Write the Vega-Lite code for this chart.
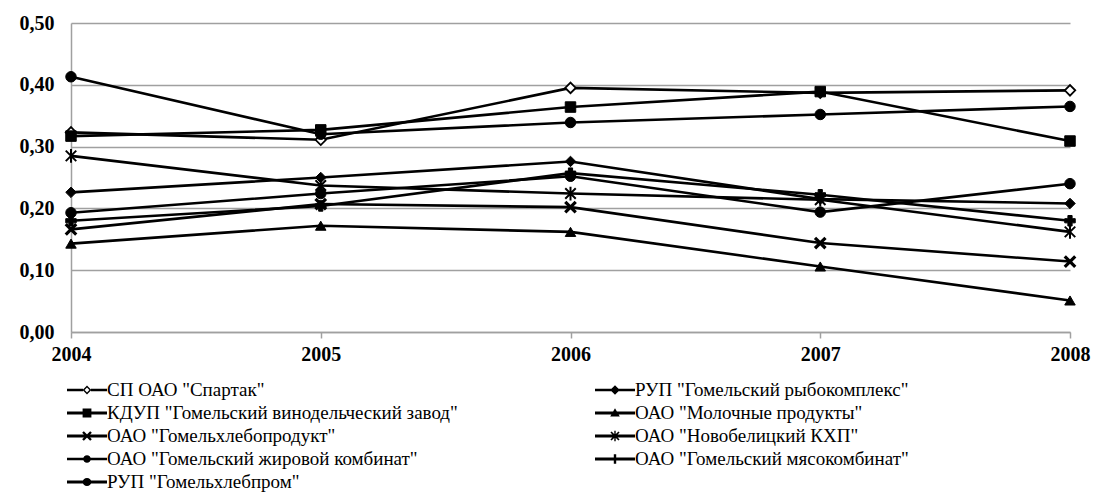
{
  "$schema": "https://vega.github.io/schema/vega-lite/v6.json",
  "autosize": {"type": "none"},
  "padding": {"left": 71, "top": 23, "right": 24, "bottom": 160},
  "width": 999,
  "height": 309,
  "background": "white",
  "config": {
    "locale": {"number": {"decimal": ",", "thousands": " ", "grouping": [3], "currency": ["", ""]}},
    "view": {"stroke": null},
    "font": "Liberation Serif"
  },
  "data": {
    "values": [
      {"series": "СП ОАО \"Спартак\"", "year": 2004, "v": 0.323},
      {"series": "СП ОАО \"Спартак\"", "year": 2005, "v": 0.311},
      {"series": "СП ОАО \"Спартак\"", "year": 2006, "v": 0.395},
      {"series": "СП ОАО \"Спартак\"", "year": 2007, "v": 0.387},
      {"series": "СП ОАО \"Спартак\"", "year": 2008, "v": 0.391},
      {"series": "РУП \"Гомельский рыбокомплекс\"", "year": 2004, "v": 0.226},
      {"series": "РУП \"Гомельский рыбокомплекс\"", "year": 2005, "v": 0.25},
      {"series": "РУП \"Гомельский рыбокомплекс\"", "year": 2006, "v": 0.276},
      {"series": "РУП \"Гомельский рыбокомплекс\"", "year": 2007, "v": 0.215},
      {"series": "РУП \"Гомельский рыбокомплекс\"", "year": 2008, "v": 0.208},
      {"series": "КДУП \"Гомельский винодельческий завод\"", "year": 2004, "v": 0.317},
      {"series": "КДУП \"Гомельский винодельческий завод\"", "year": 2005, "v": 0.327},
      {"series": "КДУП \"Гомельский винодельческий завод\"", "year": 2006, "v": 0.364},
      {"series": "КДУП \"Гомельский винодельческий завод\"", "year": 2007, "v": 0.389},
      {"series": "КДУП \"Гомельский винодельческий завод\"", "year": 2008, "v": 0.309},
      {"series": "ОАО \"Молочные продукты\"", "year": 2004, "v": 0.143},
      {"series": "ОАО \"Молочные продукты\"", "year": 2005, "v": 0.172},
      {"series": "ОАО \"Молочные продукты\"", "year": 2006, "v": 0.162},
      {"series": "ОАО \"Молочные продукты\"", "year": 2007, "v": 0.106},
      {"series": "ОАО \"Молочные продукты\"", "year": 2008, "v": 0.051},
      {"series": "ОАО \"Гомельхлебопродукт\"", "year": 2004, "v": 0.166},
      {"series": "ОАО \"Гомельхлебопродукт\"", "year": 2005, "v": 0.207},
      {"series": "ОАО \"Гомельхлебопродукт\"", "year": 2006, "v": 0.202},
      {"series": "ОАО \"Гомельхлебопродукт\"", "year": 2007, "v": 0.144},
      {"series": "ОАО \"Гомельхлебопродукт\"", "year": 2008, "v": 0.114},
      {"series": "ОАО \"Новобелицкий КХП\"", "year": 2004, "v": 0.285},
      {"series": "ОАО \"Новобелицкий КХП\"", "year": 2005, "v": 0.237},
      {"series": "ОАО \"Новобелицкий КХП\"", "year": 2006, "v": 0.224},
      {"series": "ОАО \"Новобелицкий КХП\"", "year": 2007, "v": 0.214},
      {"series": "ОАО \"Новобелицкий КХП\"", "year": 2008, "v": 0.162},
      {"series": "ОАО \"Гомельский жировой комбинат\"", "year": 2004, "v": 0.193},
      {"series": "ОАО \"Гомельский жировой комбинат\"", "year": 2005, "v": 0.224},
      {"series": "ОАО \"Гомельский жировой комбинат\"", "year": 2006, "v": 0.252},
      {"series": "ОАО \"Гомельский жировой комбинат\"", "year": 2007, "v": 0.194},
      {"series": "ОАО \"Гомельский жировой комбинат\"", "year": 2008, "v": 0.24},
      {"series": "ОАО \"Гомельский мясокомбинат\"", "year": 2004, "v": 0.18},
      {"series": "ОАО \"Гомельский мясокомбинат\"", "year": 2005, "v": 0.204},
      {"series": "ОАО \"Гомельский мясокомбинат\"", "year": 2006, "v": 0.257},
      {"series": "ОАО \"Гомельский мясокомбинат\"", "year": 2007, "v": 0.222},
      {"series": "ОАО \"Гомельский мясокомбинат\"", "year": 2008, "v": 0.18},
      {"series": "РУП \"Гомельхлебпром\"", "year": 2004, "v": 0.413},
      {"series": "РУП \"Гомельхлебпром\"", "year": 2005, "v": 0.32},
      {"series": "РУП \"Гомельхлебпром\"", "year": 2006, "v": 0.339},
      {"series": "РУП \"Гомельхлебпром\"", "year": 2007, "v": 0.352},
      {"series": "РУП \"Гомельхлебпром\"", "year": 2008, "v": 0.365}
    ]
  },
  "encoding": {
    "x": {
      "field": "year", "type": "quantitative",
      "scale": {"domain": [2004, 2008], "nice": false, "zero": false},
      "axis": {
        "values": [2004, 2005, 2006, 2007, 2008], "format": "d", "title": null, "grid": false,
        "domainColor": "#a0a0a0", "domainWidth": 1.5, "tickColor": "#a0a0a0", "tickSize": 6, "tickWidth": 1.5,
        "labelFont": "Liberation Serif", "labelFontWeight": "bold", "labelFontSize": 20, "labelColor": "black",
        "labelPadding": 6, "labelFlush": false
      }
    },
    "y": {
      "field": "v", "type": "quantitative",
      "scale": {"domain": [0, 0.5], "nice": false},
      "axis": {
        "values": [0, 0.1, 0.2, 0.3, 0.4, 0.5], "format": ".2f", "title": null,
        "grid": true, "gridColor": "#a0a0a0", "gridWidth": 1.5, "ticks": false,
        "domainColor": "#a0a0a0", "domainWidth": 1.5,
        "labelFont": "Liberation Serif", "labelFontWeight": "bold", "labelFontSize": 20, "labelColor": "black",
        "labelPadding": 17
      }
    }
  },
  "layer": [
    {
      "mark": {"type": "line", "color": "black", "strokeWidth": 2.6},
      "encoding": {"detail": {"field": "series"}}
    },
    {
      "mark": {"type": "point", "filled": true, "stroke": "black", "size": 110, "opacity": 1},
      "encoding": {
        "shape": {
          "field": "series",
          "scale": {
            "domain": ["СП ОАО \"Спартак\"", "РУП \"Гомельский рыбокомплекс\"", "КДУП \"Гомельский винодельческий завод\"", "ОАО \"Молочные продукты\"", "ОАО \"Гомельхлебопродукт\"", "ОАО \"Новобелицкий КХП\"", "ОАО \"Гомельский жировой комбинат\"", "ОАО \"Гомельский мясокомбинат\"", "РУП \"Гомельхлебпром\""],
            "range": ["diamond", "diamond", "square", "triangle-up", "M-1,-1L1,1M-1,1L1,-1", "M-1,-1L1,1M-1,1L1,-1M0,-1.3V1.3", "circle", "cross", "circle"]
          },
          "legend": null
        },
        "fill": {"condition": {"test": "indexof(datum.series, 'Спартак') >= 0", "value": "white"}, "value": "black"},
        "strokeWidth": {
          "condition": [
            {"test": "indexof(datum.series, 'хлебопродукт') >= 0", "value": 3.2},
            {"test": "indexof(datum.series, 'Новобелицкий') >= 0", "value": 2},
            {"test": "indexof(datum.series, 'Спартак') >= 0", "value": 1.8}
          ],
          "value": 1
        }
      }
    },
    {
      "transform": [{"filter": "datum.year < 0"}],
      "mark": {"type": "point", "filled": true, "color": "black", "strokeWidth": 0, "opacity": 1},
      "encoding": {
        "shape": {
          "field": "series",
          "scale": {
            "domain": ["СП ОАО \"Спартак\"", "КДУП \"Гомельский винодельческий завод\"", "ОАО \"Гомельхлебопродукт\"", "ОАО \"Гомельский жировой комбинат\"", "РУП \"Гомельхлебпром\"", "РУП \"Гомельский рыбокомплекс\"", "ОАО \"Молочные продукты\"", "ОАО \"Новобелицкий КХП\"", "ОАО \"Гомельский мясокомбинат\""],
            "range": [
              "M-1,-0.12H0.6V0.12H-1ZM1.4,-0.12H3V0.12H1.4ZM1,-0.44L1.44,0L1,0.44L0.56,0ZM1,-0.24L0.76,0L1,0.24L1.24,0Z",
              "M-1,-0.14H3V0.14H-1ZM0.56,-0.44H1.44V0.44H0.56Z",
              "M-1,-0.14H3V0.14H-1ZM0.684,-0.484L1.484,0.316L1.316,0.484L0.516,-0.316ZM0.516,0.316L1.316,-0.484L1.484,-0.316L0.684,0.484Z",
              "M-1,-0.12H3V0.12H-1ZM0.62,0A0.38,0.38 0 1,1 1.38,0A0.38,0.38 0 1,1 0.62,0Z",
              "M-1,-0.16H3V0.16H-1ZM0.56,0A0.44,0.4 0 1,1 1.44,0A0.44,0.4 0 1,1 0.56,0Z",
              "M-1,-0.12H3V0.12H-1ZM1,-0.48L1.48,0L1,0.48L0.52,0Z",
              "M-1,-0.14H3V0.14H-1ZM1,-0.48L1.48,0.36H0.52Z",
              "M-1,-0.14H3V0.14H-1ZM0.66,-0.46L1.46,0.34L1.34,0.46L0.54,-0.34ZM0.54,0.34L1.34,-0.46L1.46,-0.34L0.66,0.46ZM0.93,-0.52H1.07V0.52H0.93Z",
              "M-1,-0.14H3V0.14H-1ZM0.88,-0.48H1.12V0.48H0.88Z"
            ]
          },
          "legend": {
            "title": null,
            "orient": "none",
            "legendX": -4,
            "legendY": 357,
            "columns": 2,
            "columnPadding": 137,
            "rowPadding": 3,
            "symbolSize": 400,
            "symbolFillColor": "black",
            "symbolStrokeWidth": 0,
            "symbolOpacity": 1,
            "labelOffset": 20,
            "labelFont": "Liberation Serif",
            "labelFontSize": 19,
            "labelColor": "black",
            "labelLimit": 0
          }
        }
      }
    }
  ],
  "resolve": {"scale": {"shape": "independent"}}
}
